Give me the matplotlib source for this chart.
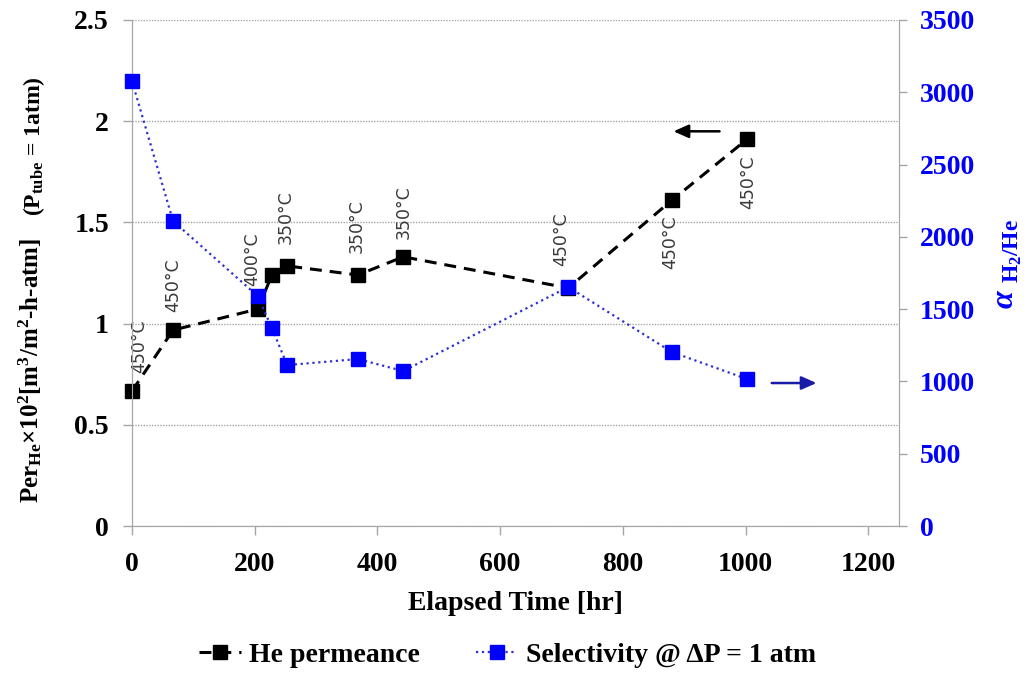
import matplotlib.pyplot as plt
import numpy as np

# データ
time_hr = [0, 67, 205, 228, 253, 368, 442, 711, 880, 1002]
permeance = [0.667, 0.968, 1.072, 1.24, 1.285, 1.24, 1.33, 1.176, 1.61, 1.91]
selectivity = [3077, 2109, 1590, 1369, 1113, 1155, 1072, 1653, 1203, 1017]
# 温度ラベル (permeance の点ごと, None はラベル無し)
temp_labels = ["450°C", "450°C", "400°C", None, "350°C", "350°C", "350°C",
               "450°C", "450°C", "450°C"]
label_offsets = [(5, 32), (0, 32), (-4, 36), None, (-1, 35), (-1, 35), (0, 32),
                 (-5, 35), (-1, -30), (1, -31)]

x_ticks = [0, 200, 400, 600, 800, 1000, 1200]
y_ticks = [0, 0.5, 1, 1.5, 2, 2.5]
y2_ticks = [0, 500, 1000, 1500, 2000, 2500, 3000, 3500]

plt.rcParams['mathtext.fontset'] = 'custom'
plt.rcParams['mathtext.rm'] = 'Liberation Serif:bold'
plt.rcParams['mathtext.it'] = 'Liberation Serif:bold:italic'
plt.rcParams['mathtext.bf'] = 'Liberation Serif:bold'

serif = dict(family='Liberation Serif', weight='bold')
grey = '#a6a6a6'
blue = '#0000ff'

fig = plt.figure(figsize=(10.36, 6.73), dpi=100)
ax = fig.add_axes([0.1274, 0.2184, 0.7404, 0.7519])
ax2 = ax.twinx()

# permeance
l1, = ax.plot(time_hr, permeance, color='black', lw=2.2, dashes=(3.9, 2.6),
              marker='s', ms=10, mfc='black', mec='black', zorder=3, clip_on=False)
# selectivity
l2, = ax2.plot(time_hr, selectivity, color='#3030d0', lw=1.6, ls=':',
               marker='s', ms=10, mfc=blue, mec=blue, zorder=3, clip_on=False)

for t, p, lab, off in zip(time_hr, permeance, temp_labels, label_offsets):
    if lab is None:
        continue
    ax.annotate(lab, xy=(t, p), xytext=off, textcoords='offset points',
                rotation=90, ha='center', va='center', fontsize=12.5,
                color='#3a3a3a', family='DejaVu Sans')

# 矢印
ax.annotate("", xy=(878, 1.95), xytext=(962, 1.95),
            arrowprops=dict(arrowstyle='-|>,head_length=0.9,head_width=0.4',
                            color='black', lw=1.8))
ax2.annotate("", xy=(1120, 989), xytext=(1038, 989),
             arrowprops=dict(arrowstyle='-|>,head_length=0.9,head_width=0.4',
                             color='#1a1aa8', lw=1.8))

ax.set_xlim(0, 1250)
ax.set_ylim(0, 2.5)
ax2.set_ylim(0, 3500)
ax.set_xticks(x_ticks)
ax.set_yticks(y_ticks)
ax.set_yticklabels(['0', '0.5', '1', '1.5', '2', '2.5'])
ax2.set_yticks(y2_ticks)

ax.grid(axis='y', color=grey, ls=(0, (1, 1)), lw=1)
ax.set_axisbelow(True)

for a in (ax, ax2):
    for s in a.spines.values():
        s.set_color(grey)
    a.spines['top'].set_visible(False)
ax.tick_params(axis='both', color=grey, length=6.5, width=1, direction='out')
ax.tick_params(axis='y', pad=10)
ax.tick_params(axis='x', pad=12)
ax2.tick_params(axis='y', color=grey, length=6, width=1, pad=9, labelcolor=blue)

for lab in ax.get_xticklabels() + ax.get_yticklabels():
    lab.set_fontproperties(serif)
    lab.set_fontsize(20)
for lab in ax2.get_yticklabels():
    lab.set_fontproperties(serif)
    lab.set_fontsize(20)

ax.set_xlabel("Elapsed Time [hr]", fontsize=20, labelpad=10, **serif)

# 左軸ラベル
fig.text(0.0367, 0.450, r"Per$_{\mathrm{He}}$×10$^{2}$[m$^{3}$/m$^{2}$-h-atm]",
         rotation=90, rotation_mode='anchor', ha='center', va='baseline',
         fontsize=18, **serif)
fig.text(0.0385, 0.783, r"(P$_{\mathrm{tube}}$ = 1atm)",
         rotation=90, rotation_mode='anchor', ha='center', va='baseline',
         fontsize=17, **serif)
# 右軸ラベル
fig.text(1005 / 1036, 1 - 299 / 673, "α", rotation=90, ha='center', va='center',
         fontsize=23, color=blue, family='Liberation Serif', weight='bold',
         style='italic')
fig.text(1013 / 1036, 1 - 251 / 673, r"H$_2$/He", rotation=90, ha='center',
         va='center', fontsize=17, color=blue, **serif)

fig.legend([l1, l2], ["He permeance", "Selectivity @ ΔP = 1 atm"],
           loc='center', bbox_to_anchor=(0.49, 0.027), ncol=2, frameon=False,
           prop=dict(family='Liberation Serif', weight='bold', size=20),
           handlelength=1.5, handletextpad=0.3, columnspacing=2.0)

plt.savefig("out.png")
